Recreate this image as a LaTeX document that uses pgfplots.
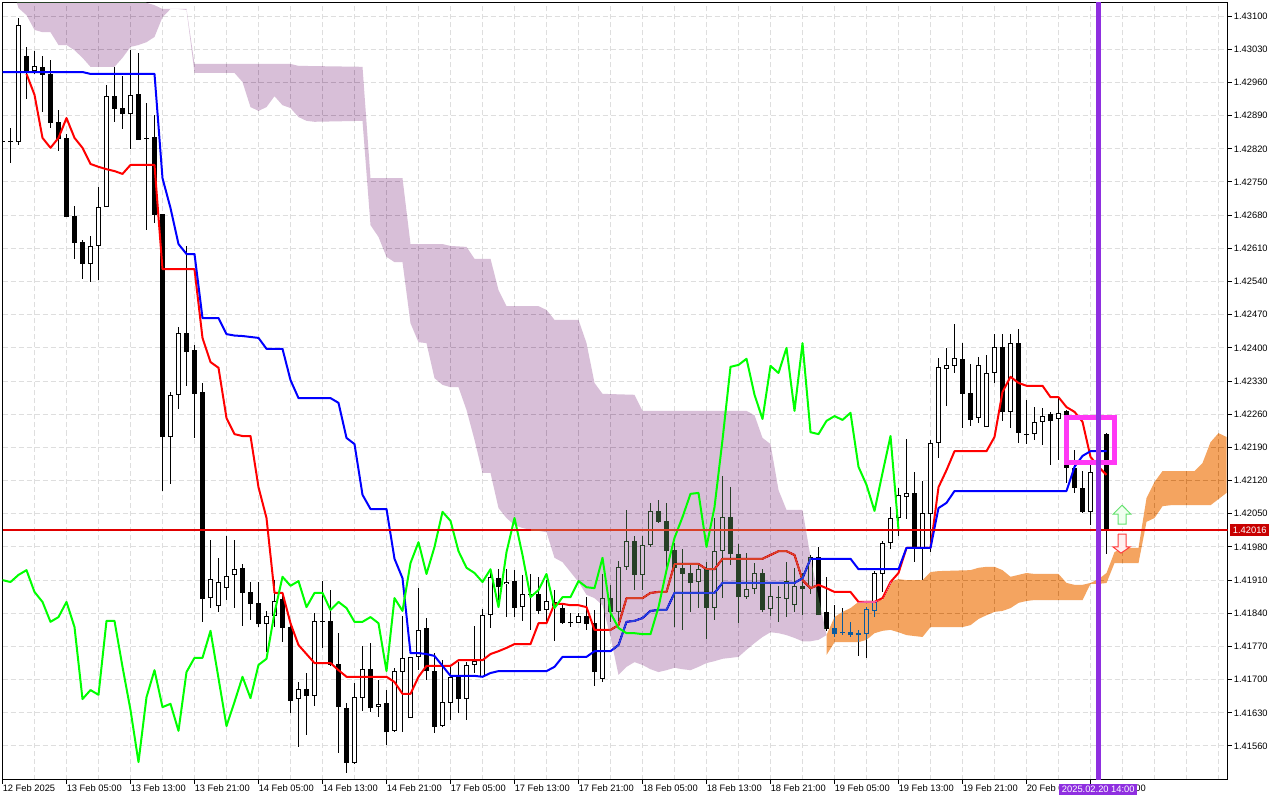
\documentclass[border=0pt]{standalone}
\usepackage{pgfplots}
\usepackage{pgfplotstable}
\usepackage{fontspec}
\setmainfont{Liberation Sans}
\pgfplotsset{compat=1.18}
\definecolor{gridc}{HTML}{DEDEDE}
\definecolor{purpleinv}{HTML}{274027}
\definecolor{orangeinv}{HTML}{0B5B9F}
\definecolor{vline}{HTML}{8F2FE0}
\definecolor{magbox}{HTML}{FF38F5}
\definecolor{pricebox}{HTML}{C80000}
\definecolor{lastprice}{HTML}{E00000}
\definecolor{lastcloud}{HTML}{D84027}
\definecolor{lagline}{HTML}{00FF00}
\definecolor{upline}{HTML}{64E16E}
\definecolor{upfill}{HTML}{F0FFF0}
\definecolor{dnline}{HTML}{FF3C3C}
\definecolor{dnfill}{HTML}{FFF0F0}
\pgfplotstableread{
i o h l c
0 1.42836 1.42839 1.42834 1.42834
1 1.42836 1.42864 1.42790 1.42834
3 1.43016 1.43035 1.42925 1.42980
5 1.42993 1.43016 1.42898 1.42976
6 1.42978 1.43007 1.42864 1.42874
7 1.42877 1.42902 1.42815 1.42841
8 1.42843 1.42851 1.42676 1.42676
9 1.42678 1.42699 1.42587 1.42621
10 1.42623 1.42628 1.42545 1.42577
14 1.42931 1.42993 1.42877 1.42904
15 1.42906 1.42974 1.42862 1.42893
17 1.42936 1.43022 1.42839 1.42839
18 1.42843 1.42917 1.42649 1.42841
19 1.42845 1.42891 1.42663 1.42680
20 1.42682 1.42682 1.42098 1.42212
23 1.42431 1.42615 1.42320 1.42391
24 1.42395 1.42406 1.42210 1.42303
25 1.42307 1.42326 1.41822 1.41870
30 1.41936 1.41944 1.41813 1.41883
31 1.41885 1.41906 1.41826 1.41860
32 1.41862 1.41906 1.41811 1.41817
35 1.41870 1.41883 1.41779 1.41809
36 1.41811 1.41819 1.41630 1.41655
38 1.41680 1.41714 1.41583 1.41665
40 1.41824 1.41908 1.41767 1.41822
41 1.41824 1.41889 1.41729 1.41731
42 1.41733 1.41798 1.41545 1.41642
43 1.41640 1.41651 1.41503 1.41524
46 1.41722 1.41777 1.41632 1.41640
48 1.41651 1.41678 1.41562 1.41589
53 1.41809 1.41830 1.41699 1.41718
54 1.41718 1.41756 1.41587 1.41600
57 1.41708 1.41737 1.41630 1.41659
62 1.41914 1.41933 1.41853 1.41895
64 1.41908 1.41931 1.41832 1.41851
66 1.41881 1.41923 1.41805 1.41879
67 1.41881 1.41917 1.41838 1.41845
69 1.41864 1.41889 1.41781 1.41855
70 1.41851 1.41857 1.41817 1.41819
71 1.41822 1.41841 1.41811 1.41819
73 1.41834 1.41874 1.41805 1.41817
74 1.41819 1.41847 1.41687 1.41716
76 1.41872 1.41900 1.41822 1.41843
79 1.41992 1.42003 1.41889 1.41921
82 1.42056 1.42079 1.42030 1.42033
83 1.42035 1.42073 1.41933 1.41971
84 1.41973 1.41988 1.41811 1.41936
85 1.41936 1.41976 1.41805 1.41923
86 1.41925 1.41946 1.41843 1.41904
88 1.41933 1.41948 1.41786 1.41851
91 1.42043 1.42106 1.41942 1.41965
92 1.41965 1.41986 1.41819 1.41874
95 1.41925 1.41933 1.41843 1.41847
97 1.41874 1.41898 1.41822 1.41872
100 1.41898 1.41925 1.41836 1.41891
102 1.41959 1.41980 1.41836 1.41836
103 1.41843 1.41917 1.41803 1.41807
104 1.41809 1.41857 1.41790 1.41796
105 1.41800 1.41851 1.41794 1.41798
106 1.41800 1.41822 1.41790 1.41794
107 1.41798 1.41805 1.41750 1.41794
114 1.42094 1.42138 1.41948 1.41978
120 1.42377 1.42410 1.42231 1.42303
121 1.42305 1.42366 1.42235 1.42248
125 1.42402 1.42429 1.42246 1.42265
127 1.42410 1.42440 1.42199 1.42220
128 1.42218 1.42290 1.42197 1.42216
131 1.42260 1.42265 1.42153 1.42246
133 1.42267 1.42269 1.42115 1.42147
134 1.42147 1.42184 1.42094 1.42104
135 1.42104 1.42140 1.42052 1.42054
138 1.42218 1.42220 1.41965 1.42016
}\bear
\pgfplotstableread{
i o h l c
2 1.42834 1.43096 1.42828 1.43081
4 1.42984 1.43026 1.42978 1.42995
11 1.42577 1.42636 1.42539 1.42615
12 1.42615 1.42739 1.42543 1.42697
13 1.42697 1.42955 1.42697 1.42931
16 1.42893 1.43028 1.42820 1.42934
21 1.42212 1.42307 1.42113 1.42301
22 1.42301 1.42444 1.42271 1.42431
26 1.41872 1.41995 1.41851 1.41912
27 1.41855 1.41957 1.41843 1.41906
28 1.41893 1.42003 1.41868 1.41919
29 1.41921 1.41995 1.41851 1.41933
33 1.41817 1.41845 1.41758 1.41834
34 1.41834 1.41910 1.41811 1.41866
37 1.41659 1.41695 1.41558 1.41680
39 1.41665 1.41841 1.41644 1.41824
44 1.41524 1.41693 1.41522 1.41663
45 1.41661 1.41771 1.41634 1.41722
47 1.41642 1.41699 1.41621 1.41649
49 1.41592 1.41725 1.41589 1.41718
50 1.41716 1.41834 1.41589 1.41746
51 1.41619 1.41748 1.41619 1.41748
52 1.41748 1.41893 1.41720 1.41805
55 1.41602 1.41741 1.41600 1.41653
56 1.41651 1.41727 1.41615 1.41706
58 1.41659 1.41737 1.41615 1.41731
59 1.41731 1.41813 1.41714 1.41739
60 1.41706 1.41849 1.41706 1.41836
61 1.41836 1.41925 1.41809 1.41917
63 1.41902 1.41933 1.41832 1.41906
65 1.41853 1.41921 1.41824 1.41881
68 1.41847 1.41910 1.41822 1.41866
72 1.41819 1.41841 1.41819 1.41834
75 1.41701 1.41923 1.41695 1.41872
77 1.41843 1.41950 1.41824 1.41938
78 1.41938 1.42058 1.41931 1.41992
80 1.41921 1.42003 1.41889 1.41984
81 1.41984 1.42073 1.41980 1.42056
87 1.41906 1.41944 1.41851 1.41933
89 1.41851 1.42041 1.41826 1.41971
90 1.41971 1.42130 1.41872 1.42043
93 1.41874 1.41967 1.41870 1.41891
94 1.41891 1.41946 1.41881 1.41925
96 1.41849 1.41906 1.41834 1.41876
98 1.41870 1.41948 1.41832 1.41908
99 1.41857 1.41936 1.41843 1.41898
101 1.41893 1.41963 1.41881 1.41959
108 1.41796 1.41853 1.41746 1.41849
109 1.41845 1.41929 1.41832 1.41925
110 1.41923 1.41992 1.41885 1.41988
111 1.41988 1.42064 1.41976 1.42041
112 1.42041 1.42104 1.42003 1.42090
113 1.42085 1.42208 1.42039 1.42094
115 1.41978 1.42119 1.41910 1.42052
116 1.42049 1.42206 1.41969 1.42199
117 1.42199 1.42379 1.42168 1.42360
118 1.42355 1.42400 1.42277 1.42364
119 1.42362 1.42450 1.42347 1.42379
122 1.42252 1.42381 1.42241 1.42364
123 1.42233 1.42385 1.42233 1.42347
124 1.42347 1.42429 1.42326 1.42402
126 1.42265 1.42429 1.42231 1.42410
129 1.42218 1.42275 1.42206 1.42244
130 1.42244 1.42273 1.42195 1.42256
132 1.42250 1.42294 1.42163 1.42263
136 1.42054 1.42153 1.42026 1.42138
}\bull
\pgfplotstableread{
i p
3 1.42978
4 1.42934
5 1.42843
6 1.42822
7 1.42843
8 1.42885
9 1.42843
10 1.42822
11 1.42788
12 1.42782
13 1.42777
14 1.42773
15 1.42767
16 1.42786
19 1.42786
20 1.42566
24 1.42566
25 1.42421
26 1.42370
27 1.42358
28 1.42252
29 1.42218
30 1.42214
31 1.42214
32 1.42106
33 1.42041
34 1.41883
35 1.41883
36 1.41819
37 1.41773
38 1.41754
39 1.41735
41 1.41735
42 1.41720
43 1.41706
48 1.41706
49 1.41695
50 1.41670
51 1.41670
52 1.41706
53 1.41729
56 1.41729
57 1.41741
60 1.41741
61 1.41754
62 1.41760
63 1.41767
64 1.41775
66 1.41775
67 1.41819
68 1.41819
69 1.41860
70 1.41860
71 1.41857
72 1.41857
73 1.41853
74 1.41805
76 1.41805
77 1.41815
78 1.41872
80 1.41872
81 1.41883
82 1.41885
83 1.41885
84 1.41944
87 1.41944
88 1.41933
89 1.41933
90 1.41955
95 1.41955
96 1.41963
97 1.41971
98 1.41971
99 1.41963
100 1.41910
101 1.41893
102 1.41900
103 1.41893
104 1.41885
106 1.41885
107 1.41864
109 1.41864
110 1.41872
111 1.41906
112 1.41925
113 1.41978
116 1.41978
117 1.42106
118 1.42142
119 1.42182
123 1.42182
124 1.42212
125 1.42307
126 1.42339
127 1.42326
128 1.42320
130 1.42320
131 1.42296
132 1.42296
133 1.42275
134 1.42265
135 1.42244
136 1.42170
137 1.42149
138 1.42132
}\tenkan
\pgfplotstableread{
i p
0 1.42982
10 1.42982
11 1.42978
19 1.42978
20 1.42758
21 1.42695
22 1.42619
23 1.42598
24 1.42598
25 1.42463
27 1.42463
28 1.42429
29 1.42426
30 1.42425
31 1.42423
32 1.42421
33 1.42398
35 1.42398
36 1.42332
37 1.42294
41 1.42294
42 1.42284
43 1.42210
44 1.42197
45 1.42090
46 1.42060
48 1.42060
49 1.41955
50 1.41914
51 1.41756
52 1.41756
53 1.41754
54 1.41750
55 1.41729
56 1.41708
59 1.41708
60 1.41706
61 1.41714
62 1.41718
68 1.41718
69 1.41727
70 1.41748
73 1.41748
74 1.41760
76 1.41760
77 1.41773
78 1.41822
79 1.41824
80 1.41830
81 1.41845
82 1.41847
83 1.41847
84 1.41883
89 1.41883
90 1.41904
99 1.41904
100 1.41914
101 1.41955
106 1.41955
107 1.41933
112 1.41933
113 1.41978
116 1.41978
117 1.42062
118 1.42073
119 1.42098
133 1.42098
134 1.42149
135 1.42172
136 1.42182
138 1.42182
}\kijun
\pgfplotstableread{
i p
0 1.41910
1 1.41906
2 1.41921
3 1.41931
4 1.41885
5 1.41864
6 1.41822
7 1.41832
8 1.41864
9 1.41811
10 1.41659
11 1.41678
12 1.41668
13 1.41824
14 1.41824
15 1.41727
16 1.41636
17 1.41526
18 1.41663
19 1.41720
20 1.41642
21 1.41649
22 1.41592
23 1.41716
24 1.41746
25 1.41746
26 1.41803
27 1.41703
28 1.41602
29 1.41653
30 1.41706
31 1.41661
32 1.41731
33 1.41744
34 1.41841
35 1.41917
36 1.41898
37 1.41908
38 1.41853
39 1.41883
40 1.41883
41 1.41847
42 1.41864
43 1.41851
44 1.41822
45 1.41822
46 1.41832
47 1.41819
48 1.41718
49 1.41872
50 1.41845
51 1.41946
52 1.41990
53 1.41923
54 1.41980
55 1.42054
56 1.42035
57 1.41971
58 1.41936
59 1.41925
60 1.41906
61 1.41933
62 1.41853
63 1.41969
64 1.42041
65 1.41963
66 1.41874
67 1.41889
68 1.41923
69 1.41851
70 1.41874
71 1.41874
72 1.41908
73 1.41895
74 1.41893
75 1.41957
76 1.41841
77 1.41809
78 1.41798
79 1.41798
80 1.41796
81 1.41796
82 1.41853
83 1.41931
84 1.41999
85 1.42043
86 1.42092
87 1.42094
88 1.41980
89 1.42064
90 1.42206
91 1.42360
92 1.42364
93 1.42377
94 1.42301
95 1.42250
96 1.42362
97 1.42347
98 1.42400
99 1.42267
100 1.42410
101 1.42222
102 1.42218
103 1.42246
104 1.42256
105 1.42248
106 1.42263
107 1.42149
108 1.42111
109 1.42056
110 1.42136
111 1.42214
112 1.42016
}\chikou
\pgfplotstableread{
i p
1.8 1.43176
17 1.43176
18 1.43128
19 1.43123
20 1.43115
23 1.43115
24 1.42999
36 1.42999
37 1.42995
45 1.42993
46 1.42758
50 1.42758
51 1.42619
55 1.42619
56 1.42615
58 1.42613
59 1.42588
61 1.42588
62 1.42522
63 1.42488
67 1.42488
68 1.42480
69 1.42459
72 1.42459
73 1.42410
74 1.42326
75 1.42303
79 1.42301
80 1.42267
93 1.42267
94 1.42258
95 1.42210
96 1.42197
97 1.42100
98 1.42058
100 1.42058
101 1.41959
102 1.41874
103 1.41794
102 1.41784
101 1.41781
100 1.41781
99 1.41788
98 1.41794
97 1.41798
96 1.41800
95 1.41790
94 1.41777
93 1.41763
92 1.41748
91 1.41746
90 1.41744
89 1.41739
88 1.41735
87 1.41727
86 1.41720
85 1.41722
84 1.41725
83 1.41720
82 1.41716
81 1.41722
80 1.41731
79 1.41737
78 1.41727
77 1.41710
76 1.41790
75 1.41857
74 1.41872
73 1.41879
72 1.41906
71 1.41927
70 1.41948
69 1.41957
68 1.42011
67 1.42014
66 1.42016
65 1.42020
64 1.42026
63 1.42041
62 1.42062
61 1.42136
60 1.42136
59 1.42206
58 1.42269
57 1.42317
56 1.42317
55 1.42322
54 1.42336
53 1.42410
52 1.42412
51 1.42452
50 1.42581
49 1.42581
48 1.42592
47 1.42634
46 1.42659
45 1.42879
39 1.42877
38 1.42879
37 1.42887
36 1.42906
35 1.42912
34 1.42931
33 1.42908
32 1.42900
31 1.42908
30 1.42961
29 1.42980
24 1.42980
23 1.43113
22 1.43115
21 1.43115
20 1.43098
19 1.43056
18 1.43045
17 1.43039
16 1.43035
15 1.43012
14 1.42993
11 1.42993
10 1.43012
9 1.43028
8 1.43039
7 1.43039
6 1.43066
5 1.43066
4 1.43071
3 1.43102
2 1.43117
1.8 1.43128
}\kumopurple
\pgfplotstableread{
i p
103 1.41794
104 1.41832
105 1.41843
106 1.41851
107 1.41864
108 1.41866
109 1.41866
110 1.41868
111 1.41906
112 1.41912
113 1.41910
115 1.41910
116 1.41927
117 1.41929
121 1.41931
122 1.41936
123 1.41938
124 1.41938
125 1.41931
126 1.41917
127 1.41921
128 1.41925
129 1.41923
132 1.41923
133 1.41904
134 1.41900
135 1.41900
136 1.41904
137 1.41912
138 1.41925
139 1.41969
140 1.41978
142 1.41978
143 1.42083
144 1.42117
145 1.42140
149 1.42140
150 1.42157
151 1.42201
152 1.42220
153 1.42212
153 1.42094
152 1.42081
151 1.42068
146 1.42068
145 1.42066
144 1.42041
143 1.42033
142 1.41946
139 1.41946
138 1.41904
137 1.41902
136 1.41902
135 1.41868
129 1.41868
128 1.41866
127 1.41862
126 1.41851
125 1.41845
124 1.41843
123 1.41836
122 1.41828
121 1.41815
120 1.41811
116 1.41811
115 1.41790
114 1.41792
113 1.41794
112 1.41800
111 1.41805
110 1.41803
109 1.41798
108 1.41784
107 1.41779
104 1.41779
103 1.41752
}\kumoorange
\begin{document}
\begin{tikzpicture}[x=1pt,y=1pt]
\path[use as bounding box] (0,0) rectangle (960,600);
\fill[white] (0,0) rectangle (960,600);
\begin{axis}[
  at={(1.875pt,15.375pt)}, anchor=south west,
  scale only axis, width=918.75pt, height=582.75pt,
  xmin=0, xmax=153.125, ymin=1.414893, ymax=1.431287,
  axis background/.style={fill=white},
  axis line style={black,line width=0.75pt},
  xtick={0,8,16,24,32,40,48,56,64,72,80,88,96,104,112,120,128,136},
  xticklabels={12 Feb 2025,13 Feb 05:00,13 Feb 13:00,13 Feb 21:00,14 Feb 05:00,14 Feb 13:00,14 Feb 21:00,17 Feb 05:00,17 Feb 13:00,17 Feb 21:00,18 Feb 05:00,18 Feb 13:00,18 Feb 21:00,19 Feb 05:00,19 Feb 13:00,19 Feb 21:00,20 Feb 05:00,20 Feb 13:00},
  minor xtick={4,12,20,28,36,44,52,60,68,76,84,92,100,108,116,124,132,140,144,148,152},
  ytick={1.4156,1.4163,1.4170,1.4177,1.4184,1.4191,1.4198,1.4205,1.4212,1.4219,1.4226,1.4233,1.4240,1.4247,1.4254,1.4261,1.4268,1.4275,1.4282,1.4289,1.4296,1.4303,1.4310},
  yticklabel pos=right, ytick pos=right, xtick pos=bottom,
  tick align=outside, major tick length=3pt, minor tick length=0pt,
  tick style={black,line width=0.75pt},
  grid=both,
  major grid style={gridc,line width=0.75pt,dash pattern=on 3.75pt off 2.25pt},
  minor grid style={gridc,line width=0.75pt,dash pattern=on 3.75pt off 2.25pt},
  xticklabel style={anchor=north west,inner xsep=0pt,inner ysep=0pt,yshift=-0.6pt,font=\fontsize{7}{8}\selectfont},
  yticklabel style={anchor=west,inner xsep=0pt,xshift=1.6pt,font=\fontsize{7}{8}\selectfont,
    /pgf/number format/.cd,fixed,fixed zerofill,precision=5,assume math mode=true},
  scaled y ticks=false,
  axis on top=false,
]
% candle wicks
\addplot[draw=none,no markers,forget plot,error bars/.cd,y dir=both,y explicit,error mark=none,
  error bar style={draw=black,line width=0.75pt}]
  table[x=i,y=c,y error plus expr=\thisrow{h}-\thisrow{c},y error minus expr=\thisrow{c}-\thisrow{l}] {\bear};
\addplot[draw=none,no markers,forget plot,error bars/.cd,y dir=both,y explicit,error mark=none,
  error bar style={draw=black,line width=0.75pt}]
  table[x=i,y=c,y error plus expr=\thisrow{h}-\thisrow{c},y error minus expr=\thisrow{c}-\thisrow{l}] {\bull};
% falling bodies
\addplot[draw=none,no markers,forget plot,error bars/.cd,y dir=plus,y explicit,error mark=none,
  error bar style={draw=black,line width=3.75pt}]
  table[x=i,y=c,y error plus expr=\thisrow{o}-\thisrow{c}] {\bear};
% rising bodies: outline, then white inside
\addplot[draw=none,no markers,forget plot,error bars/.cd,y dir=plus,y explicit,error mark=none,
  error bar style={draw=black,line width=3.75pt}]
  table[x=i,y=o,y error plus expr=\thisrow{c}-\thisrow{o}] {\bull};
\addplot[draw=none,no markers,forget plot,error bars/.cd,y dir=plus,y explicit,error mark=none,
  error bar style={draw=white,line width=2.25pt}]
  table[x=i,y expr=\thisrow{o}+0.0000211,y error plus expr=\thisrow{c}-\thisrow{o}-0.0000422] {\bull};
% conversion and base lines
\addplot[red,line width=1.5pt,line join=round] table[x=i,y=p] {\tenkan};
\addplot[blue,line width=1.5pt,line join=round] table[x=i,y=p] {\kijun};
% cloud, inverting what lies beneath it
\addplot[fill=purpleinv,draw=none,blend mode=difference] table[x=i,y=p] {\kumopurple};
\addplot[fill=orangeinv,draw=none,blend mode=difference] table[x=i,y=p] {\kumoorange};
% lagging line
\addplot[lagline,line width=1.5pt,line join=round] table[x=i,y=p] {\chikou};
% arrows
\addplot[draw=upline,fill=upfill,line width=0.75pt]
 coordinates {(139.94,1.42068)(141.06,1.42049)(140.44,1.42049)(140.44,1.42028)(139.44,1.42028)(139.44,1.42049)(138.81,1.42049)(139.94,1.42068)};
\addplot[draw=dnline,fill=dnfill,line width=0.75pt]
 coordinates {(139.44,1.42007)(140.44,1.42007)(140.44,1.41980)(140.94,1.41980)(139.81,1.41967)(138.81,1.41980)(139.44,1.41980)(139.44,1.42007)};
% box and vertical line
\addplot[magbox,line width=3.75pt,line join=miter] coordinates {(133,1.42253)(139,1.42253)(139,1.42158)(133,1.42158)(133,1.42253)(139,1.42253)};
\addplot[vline,line width=3.5pt] coordinates {(137,1.414893)(137,1.431287)};
% last price, as a one-pixel band
\addplot[fill=lastprice,draw=none,forget plot] coordinates {(0,1.420135)(136.7,1.420135)(136.7,1.420170)(0,1.420170)};
\addplot[fill=lastprice,draw=none,forget plot] coordinates {(137.3,1.420135)(153.125,1.420135)(153.125,1.420170)(137.3,1.420170)};
\addplot[fill=lastcloud,draw=none,forget plot] coordinates {(66,1.420135)(100.6,1.420135)(100.6,1.420170)(66,1.420170)};
\end{axis}
\node[fill=pricebox,text=white,inner sep=0pt,minimum width=29.25pt,minimum height=8.5pt,anchor=west,font=\fontsize{7}{8}\selectfont] at (922.5pt,202.5pt) {1.42016};
\node[fill=vline,text=white,inner sep=0pt,minimum width=58.5pt,minimum height=8.25pt,anchor=west,font=\fontsize{7}{8}\selectfont] at (794.25pt,7.9pt) {2025.02.20 14:00};
\end{tikzpicture}
\end{document}
